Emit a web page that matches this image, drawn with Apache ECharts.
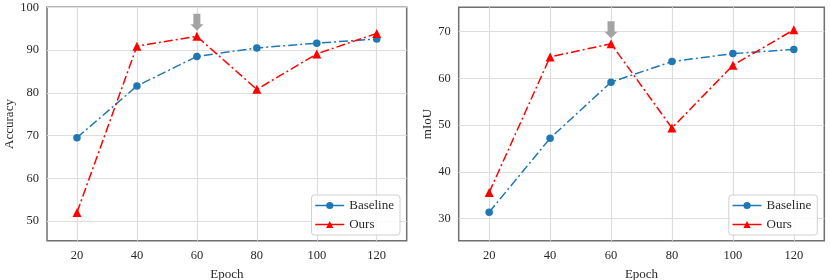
<!DOCTYPE html>
<html>
<head>
<meta charset="utf-8">
<script src="https://cdn.jsdelivr.net/npm/echarts@6/dist/echarts.min.js"></script>
<style>html,body{margin:0;padding:0;background:#fff}#c{width:830px;height:280px}</style>
</head>
<body>
<div id="c"></div>
<script>
const epochs = [20, 40, 60, 80, 100, 120];
const accBaseline = [69.5, 81.6, 88.5, 90.5, 91.6, 92.6];
const accOurs = [52.0, 90.9, 93.2, 80.8, 89.1, 93.9];
const miouBaseline = [31.4, 47.2, 59.2, 63.6, 65.3, 66.2];
const miouOurs = [35.6, 64.6, 67.4, 49.4, 62.8, 70.4];
const accTicks = [50, 60, 70, 80, 90, 100];
const miouTicks = [30, 40, 50, 60, 70];
const highlightEpoch = 60;

const FONT = '"Liberation Serif", "DejaVu Serif", serif';
const TXT = '#2a2a2a';
const BLUE = '#1f77b4';
const RED = '#ff0000';
const ARROW = 'path://M3,0 L10,0 L10,10.5 L13,10.5 L6.5,17 L0,10.5 L3,10.5 Z';

function pairs(xs, ys) { return xs.map((x, i) => [x, ys[i]]); }

function xAxisDef(gi) {
  return {
    type: 'value', gridIndex: gi, min: 10, max: 130,
    name: 'Epoch', nameLocation: 'middle', nameGap: 19,
    nameTextStyle: { fontFamily: FONT, fontSize: 13, color: TXT },
    axisLine: { show: false },
    axisTick: { show: false, customValues: epochs },
    axisLabel: { customValues: epochs, fontFamily: FONT, fontSize: 12.5, color: TXT, margin: 9 },
    splitLine: { show: true, lineStyle: { color: '#dedede', width: 1.2 } }
  };
}
function yAxisDef(gi, name, min, max, ticks, gap) {
  return {
    type: 'value', gridIndex: gi, min: min, max: max,
    name: name, nameLocation: 'middle', nameGap: gap,
    nameTextStyle: { fontFamily: FONT, fontSize: 13, color: TXT },
    axisLine: { show: false },
    axisTick: { show: false, customValues: ticks },
    axisLabel: { customValues: ticks, fontFamily: FONT, fontSize: 12.5, color: TXT, margin: 8 },
    splitLine: { show: true, lineStyle: { color: '#dedede', width: 1.2 } }
  };
}
function seriesDef(gi, name, xs, ys, color, symbol, size, arrow) {
  const s = {
    type: 'line', name: name, xAxisIndex: gi, yAxisIndex: gi,
    data: pairs(xs, ys),
    symbol: symbol, symbolSize: size, showSymbol: true,
    lineStyle: { color: color, width: 1.5, type: [9, 3, 2, 3] },
    itemStyle: { color: color },
    emphasis: { disabled: true },
    animation: false
  };
  if (arrow) {
    const idx = xs.indexOf(highlightEpoch);
    s.markPoint = {
      symbol: ARROW, symbolSize: [13, 17], symbolOffset: [0, -14],
      itemStyle: { color: '#a3a3a3' },
      label: { show: false },
      data: [{ coord: [xs[idx], ys[idx]] }],
      animation: false
    };
  }
  return s;
}
function legendDef(right) {
  return {
    data: ['Baseline', 'Ours'], orient: 'vertical', right: right, bottom: 45,
    itemWidth: 29, itemHeight: 9, itemGap: 6,
    backgroundColor: 'rgba(255,255,255,0.85)',
    borderColor: '#d0d0d0', borderWidth: 1, borderRadius: 3,
    padding: [4, 6, 4, 3],
    lineStyle: { type: 'solid', width: 1.5 },
    textStyle: { fontFamily: FONT, fontSize: 13, color: TXT },
    selectedMode: false
  };
}

const gridCommon = { show: true, borderColor: '#707070', borderWidth: 1.5, backgroundColor: 'transparent', containLabel: false, outerBoundsMode: 'none' };

const chart = echarts.init(document.getElementById('c'), null, { renderer: 'canvas' });
chart.setOption({
  animation: false,
  backgroundColor: '#fff',
  grid: [
    Object.assign({ left: 47, right: 423.3, top: 7.3, bottom: 39.3 }, gridCommon),
    Object.assign({ left: 458.7, right: 5.7, top: 7.3, bottom: 39.3 }, gridCommon)
  ],
  xAxis: [xAxisDef(0), xAxisDef(1)],
  yAxis: [
    yAxisDef(0, 'Accuracy', 45.4, 100, accTicks, 30),
    yAxisDef(1, 'mIoU', 25.3, 75.2, miouTicks, 24)
  ],
  legend: [legendDef(430), legendDef(12.7)],
  series: [
    seriesDef(0, 'Baseline', epochs, accBaseline, BLUE, 'circle', 7.5, false),
    seriesDef(0, 'Ours', epochs, accOurs, RED, 'triangle', 9, true),
    seriesDef(1, 'Baseline', epochs, miouBaseline, BLUE, 'circle', 7.5, false),
    seriesDef(1, 'Ours', epochs, miouOurs, RED, 'triangle', 9, true)
  ]
});
</script>
</body>
</html>
